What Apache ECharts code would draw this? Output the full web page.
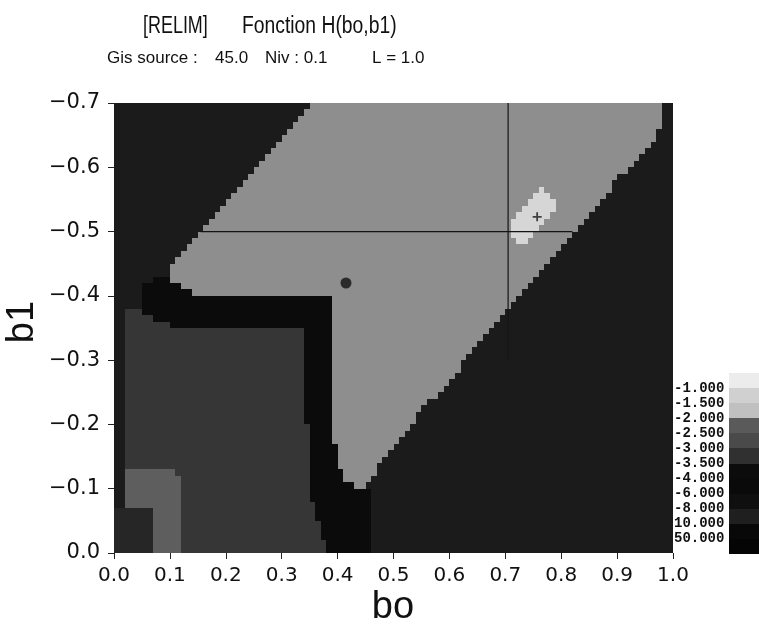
<!DOCTYPE html>
<html><head><meta charset="utf-8">
<script src="https://cdn.jsdelivr.net/npm/echarts@6/dist/echarts.min.js"></script>
<style>html,body{margin:0;padding:0;background:#fff}#c{width:759px;height:625px}</style>
</head><body><div id="c"></div>
<script>
// ---- data ----
const boRange = [0, 1];
const b1Range = [-0.7, 0];
const cellSize = 0.01;
// H(bo,b1) shade map, one row per 0.01 of b1 starting at b1 = 0 (bottom) up to b1 = -0.7 (top).
// Run-length coded: shade code followed by number of 0.01-wide bo cells.
const rowRuns = [
  "N7 P5 M26 K8 D54",
  "N7 P5 M26 K8 D54",
  "N7 P5 M25 K9 D54",
  "N7 P5 M25 K9 D54",
  "N7 P5 M25 K9 D54",
  "N7 P5 M24 K10 D54",
  "N7 P5 M24 K10 D54",
  "D2 P10 M24 K10 D54",
  "D2 P10 M23 K11 D54",
  "D2 P10 M23 K11 D54",
  "D2 P10 M23 K8 L2 D55",
  "D2 P10 M23 K6 L5 D54",
  "D2 P9 M24 K6 L6 D53",
  "D2 M33 K5 L7 D53",
  "D2 M33 K5 L8 D52",
  "D2 M33 K5 L9 D51",
  "D2 M33 K5 L10 D50",
  "D2 M33 K4 L12 D49",
  "D2 M33 K4 L13 D48",
  "D2 M33 K4 L14 D47",
  "D2 M32 K5 L15 D46",
  "D2 M32 K5 L15 D46",
  "D2 M32 K5 L16 D45",
  "D2 M32 K5 L17 D44",
  "D2 M32 K5 L19 D42",
  "D2 M32 K5 L20 D41",
  "D2 M32 K5 L21 D40",
  "D2 M32 K5 L22 D39",
  "D2 M32 K5 L23 D38",
  "D2 M32 K5 L23 D38",
  "D2 M32 K5 L24 D37",
  "D2 M32 K5 L25 D36",
  "D2 M32 K5 L26 D35",
  "D2 M32 K5 L27 D34",
  "D2 M32 K5 L28 D33",
  "D2 M8 K29 L29 D32",
  "D2 M5 K32 L30 D31",
  "D2 M3 K34 L31 D30",
  "D5 K34 L32 D29",
  "D5 K34 L33 D28",
  "D5 K9 L59 D27",
  "D5 K7 L62 D26",
  "D7 K3 L65 D25",
  "D10 L66 D24",
  "D10 L67 D23",
  "D11 L67 D22",
  "D12 L67 D21",
  "D13 L67 D20",
  "D14 L58 W2 L7 D19",
  "D15 L56 W4 L7 D18",
  "D16 L55 W5 L7 D17",
  "D17 L54 W6 L7 D16",
  "D18 L54 W6 L7 D15",
  "D19 L54 W6 L7 D14",
  "D20 L54 W5 L8 D13",
  "D21 L54 W3 L10 D12",
  "D22 L54 W1 L12 D11",
  "D23 L66 D11",
  "D24 L66 D10",
  "D25 L67 D8",
  "D26 L67 D7",
  "D27 L67 D6",
  "D28 L67 D5",
  "D29 L67 D4",
  "D30 L67 D3",
  "D31 L66 D3",
  "D32 L66 D2",
  "D33 L65 D2",
  "D34 L64 D2",
  "D35 L63 D2"
];
const shadeColors = { K: '#0b0b0b', D: '#1b1b1b', N: '#262626', M: '#363636', P: '#5e5e5e', L: '#8e8e8e', W: '#d6d6d6' };
const levelLabels = ['-1.000', '-1.500', '-2.000', '-2.500', '-3.000', '-3.500', '-4.000', '-6.000', '-8.000', '10.000', '50.000'];
const levelColors = ['#ececec', '#d0d0d0', '#c0c0c0', '#5a5a5a', '#4a4a4a', '#303030', '#0c0c0c', '#0a0a0a', '#0f0f0f', '#1f1f1f', '#080808', '#050505'];
const minimumPoint = [[0.757, -0.523]];
const darkSpot = [[0.415, -0.42]];
const crossH = [[0.155, -0.5], [0.82, -0.5]];
const crossV = [[0.705, -0.7], [0.705, -0.3]];
const xName = 'bo';
const yName = 'b1';

// ---- build cells from the run-length rows ----
const cells = [];
rowRuns.forEach((row, r) => {
  let c = 0;
  row.trim().split(/\s+/).forEach(tok => {
    const code = tok[0], n = parseInt(tok.slice(1), 10);
    cells.push({ value: [c * cellSize, (c + n) * cellSize, -r * cellSize, -(r + 1) * cellSize], code });
    c += n;
  });
});
const bandData = levelColors.map((col, i) => ({ value: [0, 1, i, i + 1], col }));

function rectItem(api, fill) {
  const p0 = api.coord([api.value(0), api.value(2)]);
  const p1 = api.coord([api.value(1), api.value(3)]);
  const x = Math.round(Math.min(p0[0], p1[0])), x2 = Math.round(Math.max(p0[0], p1[0]));
  const y = Math.round(Math.min(p0[1], p1[1])), y2 = Math.round(Math.max(p0[1], p1[1]));
  return { type: 'rect', shape: { x, y, width: x2 - x, height: y2 - y }, style: { fill } };
}

const chart = echarts.init(document.getElementById('c'), null, { renderer: 'canvas' });
const tickFont = { fontFamily: 'DejaVu Sans', fontSize: 20, color: '#111' };
function headText(str, x, y, size, sx) {
  return { type: 'text', x, y, scaleX: sx, silent: true,
    style: { text: str, fontFamily: 'Liberation Sans', fontSize: size, fill: '#111', verticalAlign: 'top' } };
}
chart.setOption({
  animation: false,
  backgroundColor: '#ffffff',
  graphic: [
    headText('[RELIM]', 143, 15, 23, 0.78),
    headText('Fonction H(bo,b1)', 242, 15, 23, 0.84),
    headText('Gis source :', 107, 50, 17, 1),
    headText('45.0', 215, 50, 17, 1),
    headText('Niv : 0.1', 265, 50, 17, 1),
    headText('L = 1.0', 372, 50, 17, 1),
    { type: 'text', x: 393, y: 608, silent: true,
      style: { text: xName, fontFamily: 'Liberation Sans', fontSize: 38, fill: '#111', align: 'center', verticalAlign: 'middle' } },
    { type: 'text', x: 23, y: 322, rotation: Math.PI / 2, silent: true,
      style: { text: yName, fontFamily: 'Liberation Sans', fontSize: 38, fill: '#111', align: 'center', verticalAlign: 'middle' } }
  ],
  grid: [
    { left: 114, top: 103, width: 559, height: 450, outerBoundsMode: 'none', containLabel: false },
    { left: 729, top: 373, width: 40, height: 181, outerBoundsMode: 'none', containLabel: false }
  ],
  xAxis: [
    {
      type: 'value', gridIndex: 0, min: boRange[0], max: boRange[1], interval: 0.1, offset: 4,
      axisLine: { show: false }, splitLine: { show: false },
      axisTick: { show: true, length: 6, lineStyle: { color: '#222', width: 1 } },
      axisLabel: Object.assign({ margin: 9, formatter: v => v.toFixed(1) }, tickFont)
    },
    { type: 'value', gridIndex: 1, min: 0, max: 1, show: false }
  ],
  yAxis: [
    {
      type: 'value', gridIndex: 0, min: b1Range[0], max: b1Range[1], interval: 0.1, inverse: true, offset: 4,
      axisLine: { show: false }, splitLine: { show: false },
      axisTick: { show: true, length: 6, lineStyle: { color: '#222', width: 1 } },
      axisLabel: Object.assign({ margin: 10, formatter: v => Math.abs(v) < 1e-9 ? '0.0' : '\u2212' + Math.abs(v).toFixed(1) }, tickFont, { fontSize: 21 })
    },
    {
      type: 'value', gridIndex: 1, min: 0, max: 12, interval: 1, inverse: true,
      axisLine: { show: false }, axisTick: { show: false }, splitLine: { show: false },
      axisLabel: {
        margin: 55, align: 'left', fontFamily: 'Liberation Mono', fontWeight: 'bold', fontSize: 14, color: '#111',
        formatter: v => (v >= 1 && v <= levelLabels.length) ? levelLabels[Math.round(v) - 1] : ''
      }
    }
  ],
  series: [
    {
      type: 'custom', xAxisIndex: 0, yAxisIndex: 0, clip: true, silent: true,
      encode: { x: [0, 1], y: [2, 3] },
      data: cells,
      renderItem: (params, api) => rectItem(api, shadeColors[cells[params.dataIndex].code])
    },
    {
      type: 'line', xAxisIndex: 0, yAxisIndex: 0, data: crossH, showSymbol: false, silent: true,
      lineStyle: { color: '#141414', width: 1.2 }
    },
    {
      type: 'line', xAxisIndex: 0, yAxisIndex: 0, data: crossV, showSymbol: false, silent: true,
      lineStyle: { color: '#141414', width: 1.2 }
    },
    {
      type: 'scatter', xAxisIndex: 0, yAxisIndex: 0, data: darkSpot, symbol: 'circle', symbolSize: 11, silent: true,
      itemStyle: { color: '#131313' }
    },
    {
      type: 'scatter', xAxisIndex: 0, yAxisIndex: 0, data: minimumPoint, silent: true,
      symbol: 'path://M4,0H6V4H10V6H6V10H4V6H0V4H4Z', symbolSize: 9,
      itemStyle: { color: '#1a1a1a' }
    },
    {
      type: 'custom', xAxisIndex: 1, yAxisIndex: 1, clip: false, silent: true,
      encode: { x: [0, 1], y: [2, 3] },
      data: bandData,
      renderItem: (params, api) => rectItem(api, bandData[params.dataIndex].col)
    }
  ]
});
</script>
</body></html>
